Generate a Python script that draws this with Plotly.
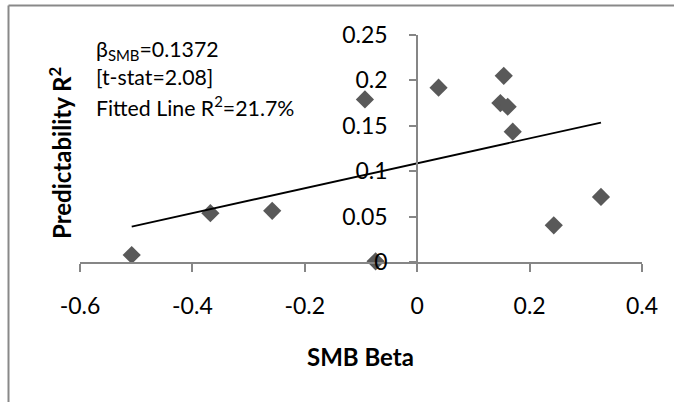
import plotly.graph_objects as go

# ---- data ----
smb_beta = [-0.508, -0.368, -0.258, -0.093, -0.074, 0.038, 0.148, 0.154, 0.161, 0.170, 0.243, 0.327]
pred_r2 = [0.0077, 0.0538, 0.0564, 0.179, 0.0007, 0.192, 0.175, 0.205, 0.171, 0.1435, 0.0404, 0.0717]
fit_slope = 0.1372
fit_intercept = 0.1087
x_ticks = [-0.6, -0.4, -0.2, 0, 0.2, 0.4]
x_tick_labels = ["-0.6", "-0.4", "-0.2", "0", "0.2", "0.4"]
y_ticks = [0, 0.05, 0.1, 0.15, 0.2, 0.25]
y_tick_labels = ["0", "0.05", "0.1", "0.15", "0.2", "0.25"]
stat_lines = ["β<sub>SMB</sub>=0.1372", "[t-stat=2.08]", "Fitted Line R<sup>2</sup>=21.7%"]
x_title = "SMB Beta"
y_title = "Predictability R<sup>2</sup>"

# ---- layout geometry ----
W, H = 674, 402
L, R, T, B = 80, 32, 35, 140
pw, ph = W - L - R, H - T - B


def px(xp):
    return (xp - L) / pw


def py(yp):
    return (H - B - yp) / ph


FONT = "Lato"
AX = "#868686"

fit_x = [min(smb_beta), max(smb_beta)]
fit_y = [fit_intercept + fit_slope * v for v in fit_x]

fig = go.Figure()
fig.add_trace(go.Scatter(
    x=smb_beta, y=pred_r2, mode="markers",
    marker=dict(symbol="diamond", size=14, color="#595959", line=dict(width=0)),
    cliponaxis=False, showlegend=False,
))
fig.add_trace(go.Scatter(
    x=fit_x, y=fit_y, mode="lines",
    line=dict(color="black", width=1.8),
    cliponaxis=False, showlegend=False,
))

fig.update_layout(
    width=W, height=H,
    margin=dict(l=L, r=R, t=T, b=B, pad=0),
    paper_bgcolor="white", plot_bgcolor="white",
    font=dict(family=FONT, size=22, color="black"),
    xaxis=dict(
        range=[-0.6, 0.4], tickvals=x_ticks, ticktext=x_tick_labels,
        ticks="outside", ticklen=8, tickwidth=2, tickcolor=AX,
        showline=True, linecolor=AX, linewidth=2,
        showgrid=False, zeroline=False,
        tickfont=dict(family=FONT, size=23, color="black"),
        ticklabelstandoff=14,
    ),
    yaxis=dict(
        range=[0, 0.25], tickvals=y_ticks, ticktext=y_tick_labels,
        anchor="free", position=px(417.2),
        ticks="outside", ticklen=7, tickwidth=2, tickcolor=AX,
        showline=True, linecolor=AX, linewidth=2,
        showgrid=False, zeroline=False,
        tickfont=dict(family=FONT, size=23, color="black"),
        ticklabelstandoff=17,
    ),
)

# stats text
for txt, yc in zip(stat_lines, [50, 77, 106]):
    fig.add_annotation(
        text=txt, xref="paper", yref="paper", x=px(94), y=py(yc),
        xanchor="left", yanchor="middle", showarrow=False,
        font=dict(family=FONT, size=21.3, color="black"),
    )

# axis titles
fig.add_annotation(
    text="<b>" + x_title + "</b>", xref="paper", yref="paper",
    x=px(360), y=py(356), xanchor="center", yanchor="middle", showarrow=False,
    font=dict(family=FONT, size=24, color="black"),
)
fig.add_annotation(
    text="<b>" + y_title + "</b>", xref="paper", yref="paper",
    x=px(60), y=py(153), xanchor="center", yanchor="middle", showarrow=False,
    textangle=-90, font=dict(family=FONT, size=24, color="black"),
)

# chart-area border (left and top edges visible)
fig.add_shape(type="line", xref="paper", yref="paper",
              x0=px(8.5), y0=py(5.5), x1=px(8.5), y1=py(410),
              line=dict(color="#898989", width=2))
fig.add_shape(type="line", xref="paper", yref="paper",
              x0=px(8.5), y0=py(5.5), x1=px(690), y1=py(5.5),
              line=dict(color="#898989", width=2))

fig.write_html("out.html")
